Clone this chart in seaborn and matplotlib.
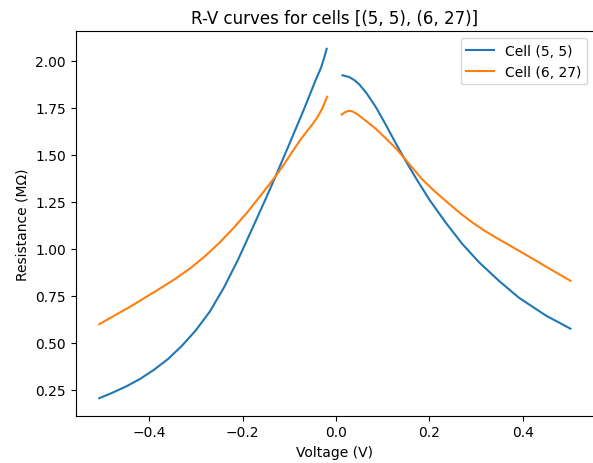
import numpy as np
import pandas as pd
import matplotlib
matplotlib.use("Agg")
import matplotlib.pyplot as plt
import seaborn as sns

# Cell (5, 5)
blue_neg_v = [-0.507, -0.48, -0.45, -0.42, -0.39, -0.36, -0.33, -0.30, -0.27, -0.24,
              -0.21, -0.18, -0.15, -0.132, -0.10, -0.07, -0.057, -0.045, -0.032,
              -0.025, -0.020]
blue_neg_r = [0.206, 0.234, 0.268, 0.308, 0.357, 0.414, 0.485, 0.568, 0.668, 0.795,
              0.942, 1.105, 1.270, 1.372, 1.558, 1.735, 1.815, 1.890, 1.965,
              2.020, 2.065]
blue_pos_v = [0.014, 0.028, 0.04, 0.05, 0.065, 0.085, 0.105, 0.128, 0.15, 0.174,
              0.20, 0.235, 0.27, 0.306, 0.35, 0.392, 0.45, 0.502]
blue_pos_r = [1.924, 1.915, 1.897, 1.875, 1.830, 1.756, 1.668, 1.562, 1.465, 1.365,
              1.262, 1.140, 1.028, 0.930, 0.828, 0.740, 0.645, 0.576]

# Cell (6, 27)
orange_neg_v = [-0.507, -0.47, -0.44, -0.413, -0.38, -0.345, -0.31, -0.28, -0.25, -0.22,
                -0.19, -0.16, -0.132, -0.11, -0.093, -0.075, -0.05, -0.04, -0.03, -0.019]
orange_neg_r = [0.600, 0.652, 0.694, 0.735, 0.785, 0.840, 0.901, 0.963, 1.032, 1.110,
                1.195, 1.289, 1.378, 1.455, 1.520, 1.585, 1.665, 1.700, 1.745, 1.810]
orange_pos_v = [0.012, 0.02, 0.027, 0.035, 0.045, 0.057, 0.07, 0.085, 0.105, 0.128,
                0.15, 0.17, 0.185, 0.21, 0.24, 0.265, 0.292, 0.32, 0.35, 0.38,
                0.399, 0.43, 0.46, 0.502]
orange_pos_r = [1.715, 1.728, 1.735, 1.732, 1.718, 1.695, 1.670, 1.640, 1.592, 1.536,
                1.472, 1.413, 1.369, 1.310, 1.245, 1.192, 1.141, 1.094, 1.050, 1.007,
                0.980, 0.935, 0.891, 0.831]

cells = ["Cell (5, 5)", "Cell (6, 27)"]

rows = []
for cell, segs in [
    (cells[0], [(blue_neg_v, blue_neg_r, "neg"), (blue_pos_v, blue_pos_r, "pos")]),
    (cells[1], [(orange_neg_v, orange_neg_r, "neg"), (orange_pos_v, orange_pos_r, "pos")]),
]:
    for v, r, b in segs:
        for vi, ri in zip(v, r):
            rows.append({"Voltage": vi, "Resistance": ri, "cell": cell, "branch": cell + b})
df = pd.DataFrame(rows)

fig = plt.figure(figsize=(5.93, 4.64), dpi=100)
ax = fig.add_axes([75.7 / 593, (464 - 416.7) / 464, (594 - 75.7) / 593, (416.7 - 32.3) / 464])

sns.lineplot(data=df, x="Voltage", y="Resistance", hue="cell", units="branch",
             estimator=None, sort=False, palette=["#1f77b4", "#ff7f0e"],
             hue_order=cells, linewidth=1.5, ax=ax)

handles, labels = ax.get_legend_handles_labels()
ax.legend(handles, labels, loc="upper right")
ax.set_xlabel("Voltage (V)")
ax.set_ylabel("Resistance (MΩ)")
ax.set_title("R-V curves for cells [(5, 5), (6, 27)]")

fig.savefig("out.png", dpi=100)
